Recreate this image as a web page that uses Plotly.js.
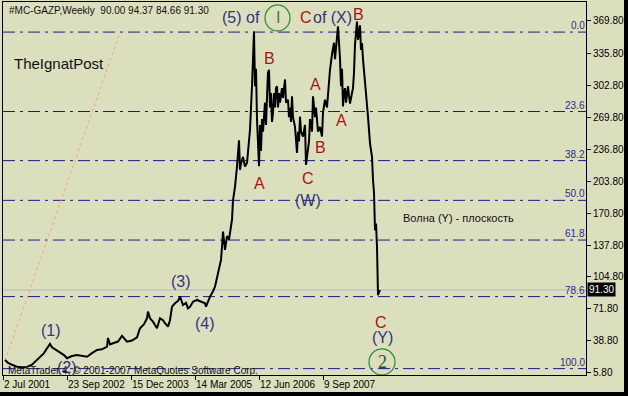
<!DOCTYPE html>
<html>
<head>
<meta charset="utf-8">
<script src="https://cdn.plot.ly/plotly-3.0.1.min.js"></script>
<style>html,body{margin:0;padding:0;background:#dcdfbd;}#chart{width:628px;height:396px;}</style>
</head>
<body>
<div id="chart"></div>
<script>
// Weekly bars, index 0 = 2 Jul 2001
const weeks = [2,5,9,14,19,24,29,34,37,41,44,47,49,52,57,61,64,69,74,79,84,89,94,99,104,105,107,110,115,119,122,124,129,134,137,141,144,145,147,150,152,154,157,160,162,165,167,169,172,175,177,180,183,185,187,190,194,197,200,202,203,207,210,212,215,218,219,220,222,224,226,229,230,232,234,235,236,237,238,240,242,244,245,247,249,250,251,252,253,254,255,256,257,258,259,260,262,263,264,265,266,267,268,269,270,271,272,273,274,275,276,277,279,280,282,283,285,286,287,288,289,290,292,293,294,295,296,297,298,300,302,303,305,306,307,309,310,312,313,314,315,317,319,320,322,324,325,327,329,331,332,334,335,337,338,339,340,341,342,343,345,346,347,349,350,351,352,354,355,356,357,358,359,360,361,362,364,365,367,369,370,371,372,373,374,375,377,378];
const closes = [18.9,16,14,12,11.4,11.8,14,19,22.3,26,31,35.5,32,30,27.5,24,20.7,23,24,23,22.3,26,29.3,30,32.7,41.7,35,36.2,38,43.8,40,37.9,39,42.4,51.7,56,62,69,62,58.5,55,51.7,62,60,56.9,53.4,60,74,77.6,80,84.4,75.8,78,72.4,74,79.2,81,80,78.2,77.6,74,84.4,90,94.7,108.6,122.4,136,151.6,132.7,147,143.5,164,184,198,219,236,246,215.6,222,229,219,222.7,233,257,302,326,358.5,302,320,268,240,219.4,262,235,268,255,285,262,290,316,319,280,295,265,274.6,295,280,300,302,280,295,285,300,290,309,285,288,270,280,265,291.5,270,260,240,233,255,245,270.5,255,250,262,220.6,240,245,268,255,291.5,270,280,268,255,260,250,275,288,280,295,319,335,347,330,357,364,330,302,320,281,295,300,285,302,292,284,295,300,316,345,368.8,350,357,365,339.5,346.7,330,316,302,274.6,270.5,243,229,205,192,153,160,136,86,91.3];

const gannWeeks = [2,117];
const gannValues = [18,358];

const yTickVals = [5.8,38.8,71.8,104.8,137.8,170.8,203.8,236.8,269.8,302.8,335.8,369.8];
const xTickWeeks = [0,64,128,192,256,320];
const xTickLabels = ['2 Jul 2001','23 Sep 2002','15 Dec 2003','14 Mar 2005','12 Jun 2006','9 Sep 2007'];

const fibLevels = [0,23.6,38.2,50,61.8,78.6,100];
const fibHigh = 358;
const fibLow = 10;
const lastPrice = closes[closes.length-1];

const RED = '#a51414', NAVY = '#33337f', GREEN = '#2f8a2f';
const F = 'Liberation Sans, Arial, sans-serif';

const fibVal = l => fibHigh - l/100*(fibHigh-fibLow);

const shapes = [];
fibLevels.forEach(l => shapes.push({type:'line', xref:'paper', x0:0, x1:1, yref:'y', y0:fibVal(l), y1:fibVal(l),
  line:{color:'#1a1a8c', width:1, dash:'12px,5px,3px,5px'}, layer:'below'}));
shapes.push({type:'line', xref:'paper', x0:0, x1:1, yref:'y', y0:lastPrice, y1:lastPrice, line:{color:'#b8b8b8', width:1}, layer:'below'});
shapes.push({type:'circle', xref:'x', yref:'y', xsizemode:'pixel', ysizemode:'pixel', xanchor:274.5, yanchor:372.6, x0:-12.5, x1:12.5, y0:-13, y1:13, line:{color:GREEN, width:1.2}});
shapes.push({type:'circle', xref:'x', yref:'y', xsizemode:'pixel', ysizemode:'pixel', xanchor:379, yanchor:16.9, x0:-13, x1:13, y0:-13, y1:13, line:{color:GREEN, width:1.2}});
shapes.push({type:'rect', xref:'paper', yref:'paper', x0:1.0652, x1:1.2, y0:-0.2, y1:1.2, fillcolor:'#000', line:{width:0}});
shapes.push({type:'rect', xref:'paper', yref:'paper', x0:-0.1, x1:1.2, y0:-0.2, y1:-0.0456, fillcolor:'#000', line:{width:0}});

const ann = [];
const lab = (t, x, y, c, s) => ann.push({text:t, x:x, y:y, xref:'x', yref:'y', showarrow:false, font:{family:F, size:s||16, color:c}, xanchor:'center', yanchor:'middle'});
lab('(5) of', 237.5, 372.6, NAVY);
lab('I', 274.5, 372.6, GREEN);
lab('C', 303, 373, RED);
lab('of (X)', 329.5, 373, NAVY);
lab('B', 355, 376, RED);
lab('B', 266, 330.2, RED);
lab('A', 256, 201.7, RED);
lab('A', 312, 303.3, RED);
lab('B', 317, 238.7, RED);
lab('C', 305, 206.1, RED);
lab('(W)', 304.5, 183.6, NAVY);
lab('A', 338, 266.6, RED);
lab('C', 378, 57.7, RED);
lab('(Y)', 379.5, 42.2, NAVY);
lab('(3)', 178, 100.1, NAVY);
lab('(4)', 202, 56.2, NAVY);
lab('(1)', 48, 49.4, NAVY);
lab('(2)', 64, 11.2, NAVY);
ann.push({text:'2', x:379, y:16.9, xref:'x', yref:'y', showarrow:false, font:{family:'Liberation Serif, serif', size:18, color:'#1f5a1f'}, xanchor:'center', yanchor:'middle'});
ann.push({text:'Волна (Y) - плоскость', x:455, y:166, xref:'x', yref:'y', showarrow:false, font:{family:F, size:11, color:'#111'}, xanchor:'center', yanchor:'middle'});
ann.push({text:'#MC-GAZP,Weekly  90.00 94.37 84.66 91.30', x:0.0069, y:0.976, xref:'paper', yref:'paper', showarrow:false, font:{family:F, size:10, color:'#111'}, xanchor:'left', yanchor:'middle'});
ann.push({text:'TheIgnatPost', x:0.0154, y:0.834, xref:'paper', yref:'paper', showarrow:false, font:{family:F, size:15, color:'#111'}, xanchor:'left', yanchor:'middle'});
ann.push({text:'MetaTrader 4, © 2001-2007 MetaQuotes Software Corp.', x:0.005, y:0.0134, xref:'paper', yref:'paper', showarrow:false, font:{family:F, size:10, color:'#111'}, xanchor:'left', yanchor:'middle'});
fibLevels.forEach(l => ann.push({text:l.toFixed(1), x:1, y:fibVal(l), xref:'paper', yref:'y', showarrow:false, font:{family:F, size:10, color:'#2b2b8a'}, xanchor:'right', yanchor:'bottom', borderpad:0}));
ann.push({text:lastPrice.toFixed(2), x:1, xshift:1, y:lastPrice, xref:'paper', yref:'y', showarrow:false, bgcolor:'#000', font:{family:F, size:10, color:'#fff'}, xanchor:'left', yanchor:'middle', borderpad:1});

const traces = [
  {type:'scatter', mode:'lines', x:gannWeeks, y:gannValues, line:{color:'#f4a27e', width:1, dash:'dot'}, hoverinfo:'skip'},
  {type:'scatter', mode:'lines', x:weeks, y:closes, line:{color:'#000', width:2}, hoverinfo:'skip'}
];

const layout = {
  width:628, height:396,
  margin:{l:3, r:42, t:2, b:21, pad:0},
  paper_bgcolor:'#dcdfbd', plot_bgcolor:'#dcdfbd',
  showlegend:false,
  xaxis:{range:[0,583], tickmode:'array', tickvals:xTickWeeks, ticktext:xTickLabels, ticks:'outside', ticklen:4, tickcolor:'#000',
    showline:true, linecolor:'#000', linewidth:1, mirror:true, showgrid:false, zeroline:false, ticklabelposition:'outside right', tickangle:0,
    tickfont:{family:F, size:10, color:'#000'}, fixedrange:true},
  yaxis:{side:'right', range:[3.4,389.1], tickmode:'array', tickvals:yTickVals, ticktext:yTickVals.map(v=>v.toFixed(2)),
    ticks:'outside', ticklen:4, tickcolor:'#000', showline:true, linecolor:'#000', linewidth:1, mirror:true, showgrid:false, zeroline:false,
    tickfont:{family:F, size:10, color:'#000'}, fixedrange:true},
  shapes:shapes, annotations:ann
};
Plotly.newPlot('chart', traces, layout, {displayModeBar:false, staticPlot:true});
</script>
</body>
</html>
